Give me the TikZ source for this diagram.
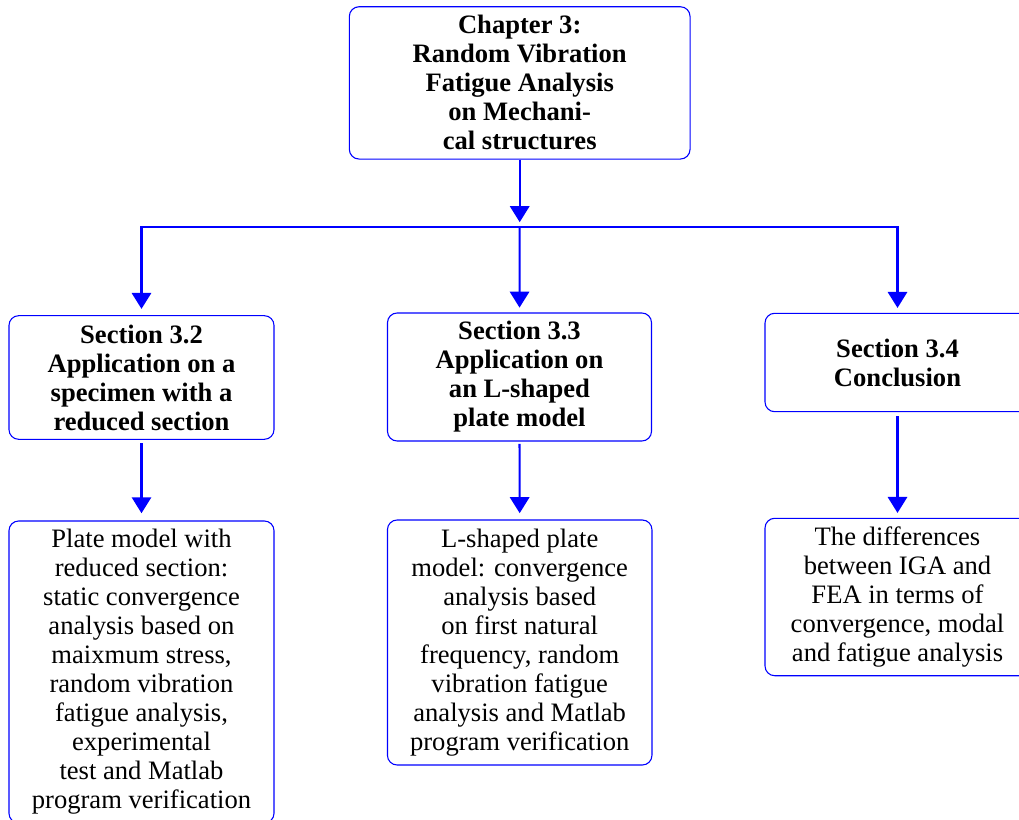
\documentclass[tikz,border=0pt]{standalone}
\usepackage{fontspec}
\setmainfont{Liberation Serif}
\usetikzlibrary{arrows.meta}
\begin{document}
\begin{tikzpicture}[x=0.41375pt, y=-0.41375pt,
  box/.style={draw=blue, line width=0.45pt, rounded corners=4pt, align=center,
    inner sep=0pt, font=\fontsize{11}{12}\selectfont},
  boldbox/.style={box, font=\fontsize{11}{12}\selectfont\bfseries},
  link/.style={draw=blue, line width=0.85pt,
    -{Triangle[width=8pt,length=6.6pt]}},
]
\useasboundingbox (0,0) rectangle (1019,820);
\clip (0,0) rectangle (1019,820);

\node[boldbox, minimum width=340.7*0.41375pt, minimum height=152.3*0.41375pt] (top) at (519.7,82.9)
  {Chapter 3:\\Random Vibration\\Fatigue Analysis\\on Mechani-\\cal structures};

\node[boldbox, minimum width=265*0.41375pt, minimum height=123.6*0.41375pt] (s32) at (141.5,377.5)
  {Section 3.2\\Application on a\\specimen with a\\reduced section};
\node[boldbox, minimum width=264*0.41375pt, minimum height=128*0.41375pt] (s33) at (519.5,377)
  {Section 3.3\\Application on\\an L-shaped\\plate model};
\node[boldbox, minimum width=265*0.41375pt, minimum height=98.4*0.41375pt] (s34) at (897.5,362.5)
  {Section 3.4\\Conclusion};

\node[box, minimum width=265*0.41375pt, minimum height=302*0.41375pt] (b32) at (141.5,672)
  {Plate model with\\reduced section:\\static convergence\\analysis based on\\maixmum stress,\\random vibration\\fatigue analysis,\\experimental\\test and Matlab\\program verification};
\node[box, minimum width=264.5*0.41375pt, minimum height=245*0.41375pt] (b33) at (519.7,642.5)
  {L-shaped plate\\model: convergence\\analysis based\\on first natural\\frequency, random\\vibration fatigue\\analysis and Matlab\\program verification};
\node[box, minimum width=265*0.41375pt, minimum height=157.4*0.41375pt] (b34) at (897.5,597)
  {The differences\\between IGA and\\FEA in terms of\\convergence, modal\\and fatigue analysis};

\coordinate (bar) at (519.7,227);

\draw[link, shorten >=2pt] (top.south) -- (bar);
\draw[link, shorten >=2.6pt] (bar) -| (s32.north);
\draw[link, shorten >=2pt] (bar) -- (s33.north);
\draw[link, shorten >=2pt] (bar) -| (s34.north);

\draw[link, shorten <=1.4pt, shorten >=3pt] (s32.south) -- (b32.north);
\draw[link, shorten <=1pt, shorten >=2.6pt] (s33.south) -- (b33.north);
\draw[link, shorten <=1.6pt, shorten >=2pt] (s34.south) -- (b34.north);
\end{tikzpicture}
\end{document}
